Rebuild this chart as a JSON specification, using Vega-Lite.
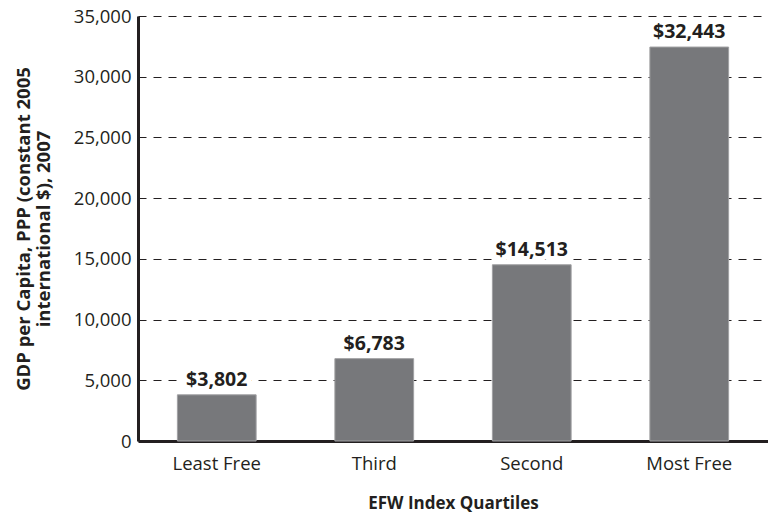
{
  "$schema": "https://vega.github.io/schema/vega-lite/v6.json",
  "autosize": "none",
  "width": 630,
  "height": 425,
  "padding": {"left": 138, "top": 16, "right": 0, "bottom": 73},
  "background": "white",
  "config": {
    "font": "Open Sans",
    "view": {"stroke": null}
  },
  "data": {
    "values": [
      {"quartile": "Least Free", "gdp": 3802, "label": "$3,802"},
      {"quartile": "Third", "gdp": 6783, "label": "$6,783"},
      {"quartile": "Second", "gdp": 14513, "label": "$14,513"},
      {"quartile": "Most Free", "gdp": 32443, "label": "$32,443"}
    ]
  },
  "encoding": {
    "x": {
      "field": "quartile",
      "type": "nominal",
      "sort": null,
      "scale": {"paddingInner": 0.5, "paddingOuter": 0.25},
      "axis": {
        "title": "EFW Index Quartiles",
        "titleFontSize": 17,
        "titleFontWeight": "bold",
        "titleColor": "#231f20",
        "titlePadding": 23,
        "labelAngle": 0,
        "labelFontSize": 18.5,
        "labelColor": "#231f20",
        "labelPadding": 13,
        "ticks": false,
        "domain": true,
        "domainColor": "#231f20",
        "domainWidth": 3
      }
    },
    "y": {
      "field": "gdp",
      "type": "quantitative",
      "scale": {"domain": [0, 35000]},
      "axis": {
        "title": ["GDP per Capita, PPP (constant 2005", "international $), 2007"],
        "titleFontSize": 18.5,
        "titleFontWeight": "bold",
        "titleColor": "#231f20",
        "titlePadding": 20,
        "titleLineHeight": 20,
        "values": [0, 5000, 10000, 15000, 20000, 25000, 30000, 35000],
        "format": ",.0f",
        "labelFontSize": 18.5,
        "labelColor": "#231f20",
        "labelPadding": 7,
        "ticks": false,
        "domain": true,
        "domainColor": "#231f20",
        "domainWidth": 3,
        "grid": true,
        "gridColor": "#231f20",
        "gridDash": [8, 7],
        "gridWidth": 1
      }
    }
  },
  "layer": [
    {
      "mark": {"type": "bar", "color": "#77787b", "stroke": "#a0a0a3", "strokeWidth": 1}
    },
    {
      "mark": {"type": "text", "baseline": "bottom", "dy": -5, "fontSize": 19.5, "fontWeight": "bold", "stroke": "white", "strokeWidth": 10, "fill": "white"},
      "encoding": {"text": {"field": "label"}}
    },
    {
      "mark": {"type": "text", "baseline": "bottom", "dy": -5, "fontSize": 19.5, "fontWeight": "bold", "color": "#231f20"},
      "encoding": {"text": {"field": "label"}}
    }
  ]
}
